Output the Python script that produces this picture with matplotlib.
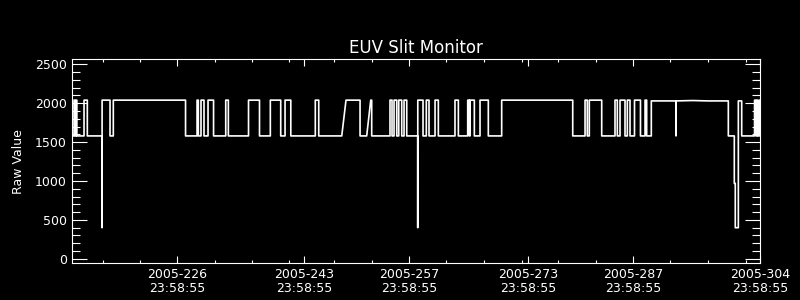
import matplotlib
matplotlib.use("Agg")
import matplotlib.pyplot as plt
from matplotlib.ticker import MultipleLocator, FixedLocator

# EUV slit monitor raw values, time in day-of-year 2005 (samples)
doy = [211.90, 212.17, 212.17, 212.31, 212.31, 212.44, 212.44, 212.55, 212.55,
       213.51, 213.51, 213.95, 213.95, 215.92, 215.92, 215.93,
       216.99, 216.99, 217.43, 217.43, 227.10, 227.10, 228.64, 228.64,
       228.81, 228.81, 229.17, 229.17, 229.57, 229.57, 230.11, 230.11,
       230.85, 230.85, 232.48, 232.48, 232.83, 232.83, 235.53, 235.53,
       237.00, 237.00, 238.45, 238.45, 239.84, 239.84, 240.42, 240.42,
       241.19, 241.19, 244.47, 244.47, 244.93, 244.93, 248.01, 248.58,
       250.46, 250.46, 251.35, 251.89, 252.02, 252.02,
       254.47, 254.47, 254.74, 254.74, 255.01, 255.01, 255.37, 255.37,
       255.64, 255.64, 256.04, 256.04, 256.35, 256.35, 256.71, 256.71,
       258.18, 258.18, 258.19, 258.89, 258.89, 259.33, 259.33, 259.69, 259.69,
       260.50, 260.50, 260.94, 260.94, 263.17, 263.17, 263.62, 263.62,
       264.87, 264.87, 265.09, 265.09, 265.18, 265.18, 265.76, 265.76,
       266.52, 266.52, 267.63, 267.63, 269.42, 269.42, 278.93, 278.93,
       280.58, 280.58, 280.88, 280.88, 281.15, 281.15, 282.81, 282.81,
       284.59, 284.59, 284.90, 284.90, 285.26, 285.26, 285.93, 285.93,
       286.24, 286.24, 286.60, 286.60, 287.20, 287.20, 288.00, 288.00,
       288.61, 288.61, 288.83, 288.83, 289.45, 289.45,
       292.76, 292.76, 292.77, 295.00, 297.00, 299.76, 299.76,
       300.56, 300.56, 300.69, 300.69, 301.10, 301.10, 301.55, 301.55,
       303.27, 303.27, 303.47, 303.47, 303.60, 303.60, 303.73, 303.73,
       303.93, 303.93, 304.00]
raw = [1580, 1580, 2040, 2040, 1580, 1580, 2040, 2040, 1580,
       1580, 2040, 2040, 1580, 1580, 400, 2040,
       2040, 1580, 1580, 2040, 2040, 1580, 1580, 2040,
       2040, 1580, 1580, 2040, 2040, 1580, 1580, 2040,
       2040, 1580, 1580, 2040, 2040, 1580, 1580, 2040,
       2040, 1580, 1580, 2040, 2040, 1580, 1580, 2040,
       2040, 1580, 1580, 2040, 2040, 1580, 1580, 2040,
       2040, 1580, 1580, 2040, 2040, 1580,
       1580, 2040, 2040, 1580, 1580, 2040, 2040, 1580,
       1580, 2040, 2040, 1580, 1580, 2040, 2040, 1580,
       1580, 400, 2040, 2040, 1580, 1580, 2040, 2040, 1580,
       1580, 2040, 2040, 1580, 1580, 2040, 2040, 1580,
       1580, 2040, 2040, 1580, 1580, 2040, 2040, 1580,
       1580, 2040, 2040, 1580, 1580, 2040, 2040, 1580,
       1580, 2040, 2040, 1580, 1580, 2040, 2040, 1580,
       1580, 2040, 2040, 1580, 1580, 2040, 2040, 1580,
       1580, 2040, 2040, 1580, 1580, 2040, 2040, 1580,
       1580, 2040, 2040, 1580, 1580, 2030,
       2030, 1580, 2030, 2035, 2030, 2030, 1580,
       1580, 970, 970, 400, 400, 2030, 2030, 1580,
       1580, 2040, 2040, 1580, 1580, 2040, 2040, 1580,
       1580, 2040, 2040]

major_days = [226, 243, 257, 273, 287, 304]
minor_days = [216, 221, 231, 236, 241, 247, 252, 262, 267, 272.1,
              277, 282, 292, 297, 302.1]
tick_labels = [f"2005-{d}\n23:58:55" for d in major_days]

plt.rcParams['font.family'] = 'DejaVu Sans'
fig = plt.figure(figsize=(8, 3), dpi=100, facecolor='black')
ax = fig.add_axes([0.09, 0.1223, 0.86, 0.68], facecolor='black')

ax.plot(doy, raw, color='white', lw=1.2)

ax.set_xlim(211.9, 304.0)
ax.set_ylim(-58, 2565)

ax.xaxis.set_major_locator(FixedLocator(major_days))
ax.xaxis.set_minor_locator(FixedLocator(minor_days))
ax.set_xticklabels(tick_labels, linespacing=1.05)
ax.yaxis.set_major_locator(MultipleLocator(500))
ax.yaxis.set_minor_locator(MultipleLocator(100))

for s in ax.spines.values():
    s.set_color('white')
    s.set_linewidth(0.8)

ax.tick_params(axis='both', which='both', direction='in', colors='white',
               width=0.8, top=True, right=True, labelsize=9)
ax.tick_params(axis='x', which='major', length=4.7, pad=3.5)
ax.tick_params(axis='x', which='minor', length=2.5)
ax.tick_params(axis='y', which='major', length=10.6, pad=3.8)
ax.tick_params(axis='y', which='minor', length=5.8)

ax.set_title('EUV Slit Monitor', color='white', fontsize=12, pad=4.3)
ax.set_ylabel('Raw Value', color='white', fontsize=9)
ax.yaxis.set_label_coords(-0.068, 0.5)

fig.savefig('out.png', dpi=100, facecolor='black')
